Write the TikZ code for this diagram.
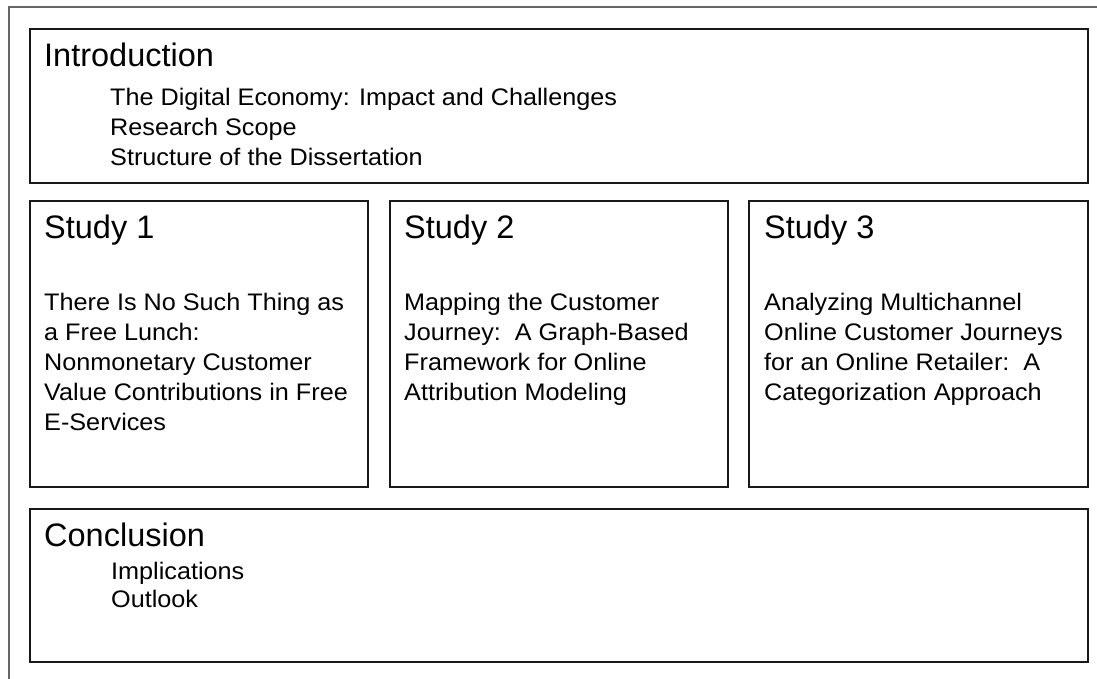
\documentclass[tikz,border=0pt]{standalone}
\usepackage{fontspec}
\setmainfont{Liberation Sans}
\newfontfamily\bodyfont[FakeStretch=1.055]{Liberation Sans}
\begin{document}
\begin{tikzpicture}[x=1pt,y=-1pt,
  frame/.style={draw=black!60,line width=1.4pt},
  box/.style={draw=black!90,line width=1.9pt},
  title/.style={anchor=base west,inner sep=0pt,font=\fontsize{32.5}{38}\selectfont},
  body/.style={anchor=base west,inner sep=0pt,align=left,font=\bodyfont\fontsize{23.9}{30}\selectfont},
  ibody/.style={anchor=base west,inner sep=0pt,align=left,font=\bodyfont\fontsize{23.9}{29.8}\selectfont},
  cbody/.style={anchor=base west,inner sep=0pt,align=left,font=\bodyfont\fontsize{23.9}{28}\selectfont}]
\useasboundingbox (0,0) rectangle (1097,679);
\fill[white] (0,0) rectangle (1097,679);
% outer frame
\draw[frame] (9,679) -- (9,7) -- (1097,7);
% boxes
\draw[box] (30,29) rectangle (1088,183);
\draw[box] (30,201) rectangle (368,487);
\draw[box] (390,201) rectangle (728,487);
\draw[box] (749,201) rectangle (1088,487);
\draw[box] (30,509) rectangle (1088,662);
% introduction (base anchor = last line's baseline)
\node[title] (introT) at (44,67) {Introduction};
\node[ibody] (introB) at (110,165.1) {The Digital Economy: Impact and Challenges\\Research Scope\\Structure of the Dissertation};
% studies
\node[title] (s1T) at (44,238) {Study 1};
\node[body] (s1B) at (44,430) {There Is No Such Thing as\\a Free Lunch:\\Nonmonetary Customer\\Value Contributions in Free\\E-Services};
\node[title] (s2T) at (404,238) {Study 2};
\node[body] (s2B) at (404,400) {Mapping the Customer\\Journey:\ \ A Graph-Based\\Framework for Online\\Attribution Modeling};
\node[title] (s3T) at (764,238) {Study 3};
\node[body] (s3B) at (764,400) {Analyzing Multichannel\\Online Customer Journeys\\for an Online Retailer:\ \ A\\Categorization Approach};
% conclusion
\node[title] (concT) at (44,546.5) {Conclusion};
\node[cbody] (concB) at (111,607) {Implications\\Outlook};
\end{tikzpicture}
\end{document}
